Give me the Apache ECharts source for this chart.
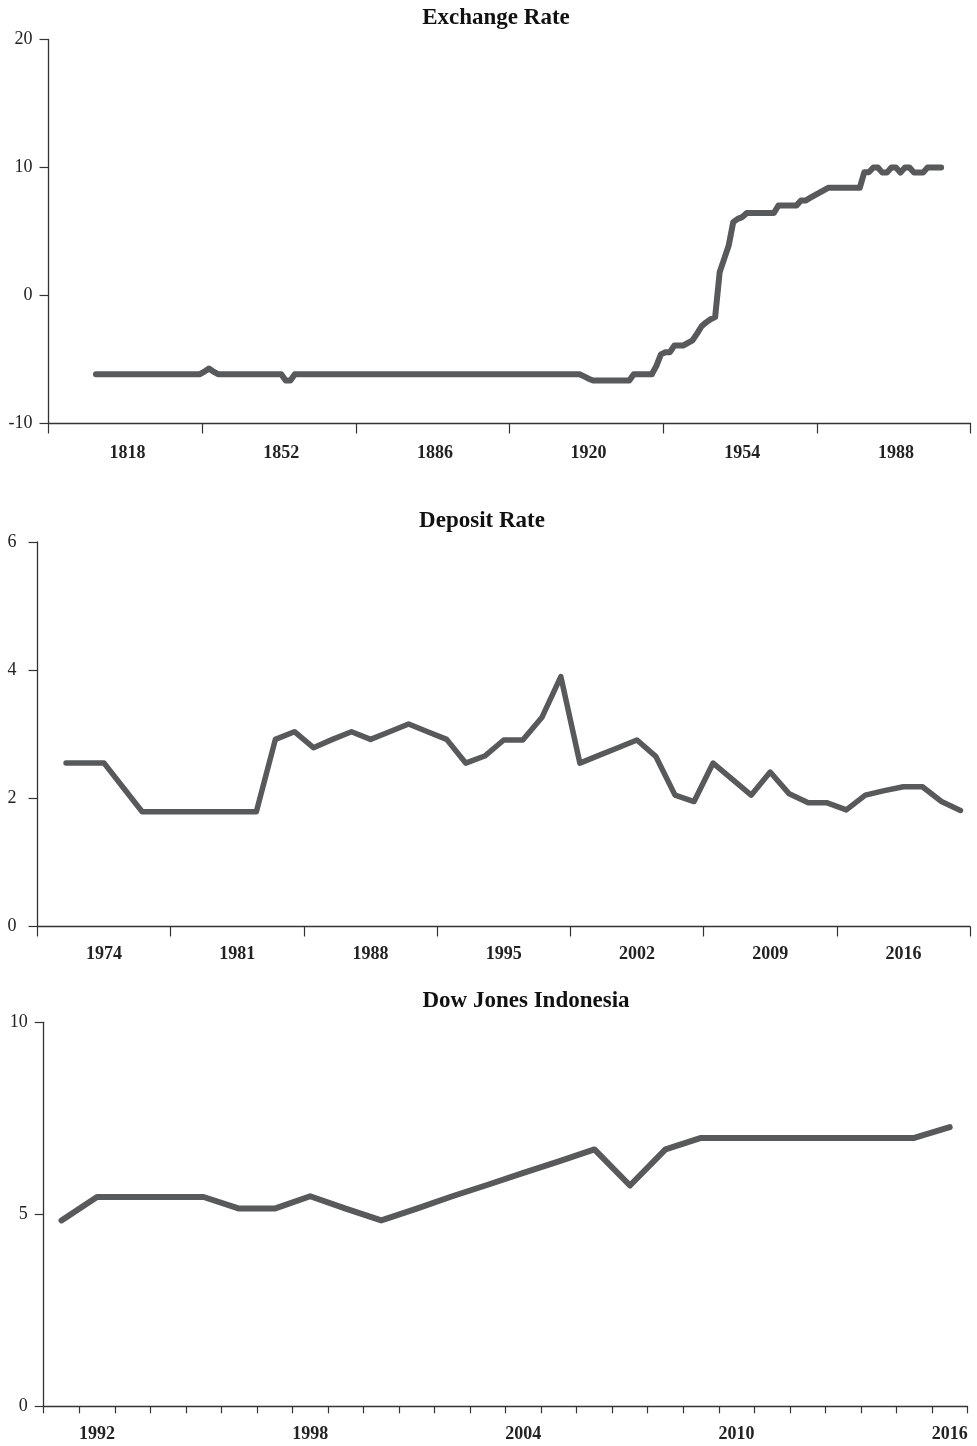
<!DOCTYPE html>
<html>
<head>
<meta charset="utf-8">
<script src="https://cdn.jsdelivr.net/npm/echarts@6/dist/echarts.min.js"></script>
<style>
html,body{margin:0;padding:0;background:#fff;}
#chart{width:977px;height:1446px;}
</style>
</head>
<body>
<div id="chart"></div>
<script>
// ---------- DATA ----------
// Exchange Rate: categories 1801..2004
const exYears = [];
for (let y = 1801; y <= 2004; y++) exYears.push(String(y));
const exchangeRate = [
  // 1801-1810
  null,null,null,null,null,null,null,null,null,null,
  // 1811-1833
  -6.15,-6.15,-6.15,-6.15,-6.15,-6.15,-6.15,-6.15,-6.15,-6.15,
  -6.15,-6.15,-6.15,-6.15,-6.15,-6.15,-6.15,-6.15,-6.15,-6.15,
  -6.15,-6.15,-6.15,
  // 1834-1837
  -6.15,-5.95,-5.7,-5.95,
  // 1838-1852
  -6.15,-6.15,-6.15,-6.15,-6.15,-6.15,-6.15,-6.15,-6.15,-6.15,
  -6.15,-6.15,-6.15,-6.15,-6.15,
  // 1853-1854
  -6.65,-6.65,
  // 1855-1918
  -6.15,-6.15,-6.15,-6.15,-6.15,-6.15,-6.15,-6.15,-6.15,-6.15,
  -6.15,-6.15,-6.15,-6.15,-6.15,-6.15,-6.15,-6.15,-6.15,-6.15,
  -6.15,-6.15,-6.15,-6.15,-6.15,-6.15,-6.15,-6.15,-6.15,-6.15,
  -6.15,-6.15,-6.15,-6.15,-6.15,-6.15,-6.15,-6.15,-6.15,-6.15,
  -6.15,-6.15,-6.15,-6.15,-6.15,-6.15,-6.15,-6.15,-6.15,-6.15,
  -6.15,-6.15,-6.15,-6.15,-6.15,-6.15,-6.15,-6.15,-6.15,-6.15,
  -6.15,-6.15,-6.15,-6.15,
  // 1919-1929
  -6.32,-6.5,-6.64,-6.64,-6.64,-6.64,-6.64,-6.64,-6.64,-6.64,-6.64,
  // 1930-1934
  -6.15,-6.15,-6.15,-6.15,-6.15,
  // 1935-1948
  -5.5,-4.6,-4.43,-4.43,-3.9,-3.9,-3.9,-3.7,-3.5,-2.98,-2.4,-2.1,-1.85,-1.69,
  // 1949-1954
  1.82,2.86,3.9,5.73,5.99,6.12,
  // 1955-1961
  6.45,6.45,6.45,6.45,6.45,6.45,6.45,
  // 1962-1966
  7.03,7.03,7.03,7.03,7.03,
  // 1967-1973
  7.42,7.42,7.62,7.82,8.02,8.22,8.41,
  // 1974-1980
  8.41,8.41,8.41,8.41,8.41,8.41,8.41,
  // 1981-1998
  9.63,9.63,10.0,10.0,9.6,9.6,10.0,10.0,9.6,10.0,10.0,9.6,9.6,9.6,10.0,10.0,10.0,10.0,
  // 1999-2004
  null,null,null,null,null,null
];

// Deposit Rate: categories 1971..2019
const depYears = [];
for (let y = 1971; y <= 2019; y++) depYears.push(String(y));
const depositRate = [
  null,
  2.55,2.55,2.55,2.17,1.79,1.79,1.79,1.79,1.79,1.79,1.79,   // 1972-1982
  2.92,3.04,2.79,2.92,3.04,2.92,3.04,3.16,3.04,2.92,         // 1983-1992
  2.55,2.66,2.91,2.91,3.26,3.90,2.55,2.67,2.79,2.91,         // 1993-2002
  2.65,2.05,1.95,2.55,2.30,2.05,2.41,2.07,1.93,1.93,         // 2003-2012
  1.82,2.05,2.12,2.18,2.18,1.95,1.81                         // 2013-2019
];

// Dow Jones Indonesia: categories 1991..2016
const djYears = [];
for (let y = 1991; y <= 2016; y++) djYears.push(String(y));
const dowJones = [
  4.84,5.45,5.45,5.45,5.45,5.15,5.15,5.47,5.15,4.84,
  5.15,5.47,5.77,6.08,6.38,6.69,5.75,6.69,6.99,6.99,
  6.99,6.99,6.99,6.99,6.99,7.27
];

const titles = ['Exchange Rate', 'Deposit Rate', 'Dow Jones Indonesia'];

// ---------- STYLE ----------
const FONT = '"Liberation Serif", "Times New Roman", serif';
const AXIS_COLOR = '#333';
const LINE_COLOR = '#58595b';
const TEXT_COLOR = '#222';

function xAxisCfg(gridIndex, cats, tickFn, labelFn, tickLen, labelMargin) {
  return {
    type: 'category', gridIndex, data: cats, boundaryGap: true,
    axisLine: { show: true, onZero: false, lineStyle: { color: AXIS_COLOR, width: 1.3 } },
    axisTick: { show: true, interval: tickFn, length: tickLen, lineStyle: { color: AXIS_COLOR, width: 1.2 } },
    axisLabel: { interval: labelFn, margin: labelMargin, fontFamily: FONT, fontWeight: 'bold', fontSize: 18, color: TEXT_COLOR },
    splitLine: { show: false }
  };
}
function yAxisCfg(gridIndex, min, max, interval, labelMargin) {
  return {
    type: 'value', gridIndex, min, max, interval,
    axisLine: { show: true, onZero: false, lineStyle: { color: AXIS_COLOR, width: 1.3 } },
    axisTick: { show: true, length: 9, lineStyle: { color: AXIS_COLOR, width: 1.2 } },
    axisLabel: { margin: labelMargin, fontFamily: FONT, fontSize: 18, color: TEXT_COLOR },
    splitLine: { show: false }
  };
}
function lineSeries(idx, data, width) {
  return {
    type: 'line', xAxisIndex: idx, yAxisIndex: idx, data,
    showSymbol: false, symbol: 'none', connectNulls: false, animation: false,
    lineStyle: { color: LINE_COLOR, width: width, cap: 'round', join: 'round' }
  };
}
function titleText(text, x, y) {
  return {
    type: 'text', x, y, silent: true,
    style: { text, align: 'center', verticalAlign: 'middle', font: 'bold 23px ' + FONT, fill: '#111' }
  };
}

const chart = echarts.init(document.getElementById('chart'), null, { renderer: 'canvas' });
chart.setOption({
  animation: false,
  backgroundColor: '#fff',
  grid: [
    { left: 48.5, right: 6.5, top: 39.5, height: 384 },
    { left: 37.5, right: 7, top: 542, height: 384.5 },
    { left: 43.7, right: 9.5, top: 1022.3, height: 384 }
  ],
  xAxis: [
    xAxisCfg(0, exYears, (i) => i % 34 === 0, (i) => i % 34 === 17, 10, 21),
    xAxisCfg(1, depYears, (i) => i % 7 === 0, (i) => i % 7 === 3, 10, 18.5),
    xAxisCfg(2, djYears, 0, (i) => i % 6 === 1, 7, 19)
  ],
  yAxis: [
    yAxisCfg(0, -10, 20, 10, 16),
    yAxisCfg(1, 0, 6, 2, 21),
    yAxisCfg(2, 0, 10, 5, 16)
  ],
  series: [
    lineSeries(0, exchangeRate, 6),
    lineSeries(1, depositRate, 5.5),
    lineSeries(2, dowJones, 6)
  ],
  graphic: [
    titleText(titles[0], 496, 18),
    titleText(titles[1], 482, 521),
    titleText(titles[2], 526, 1001)
  ]
});
</script>
</body>
</html>
